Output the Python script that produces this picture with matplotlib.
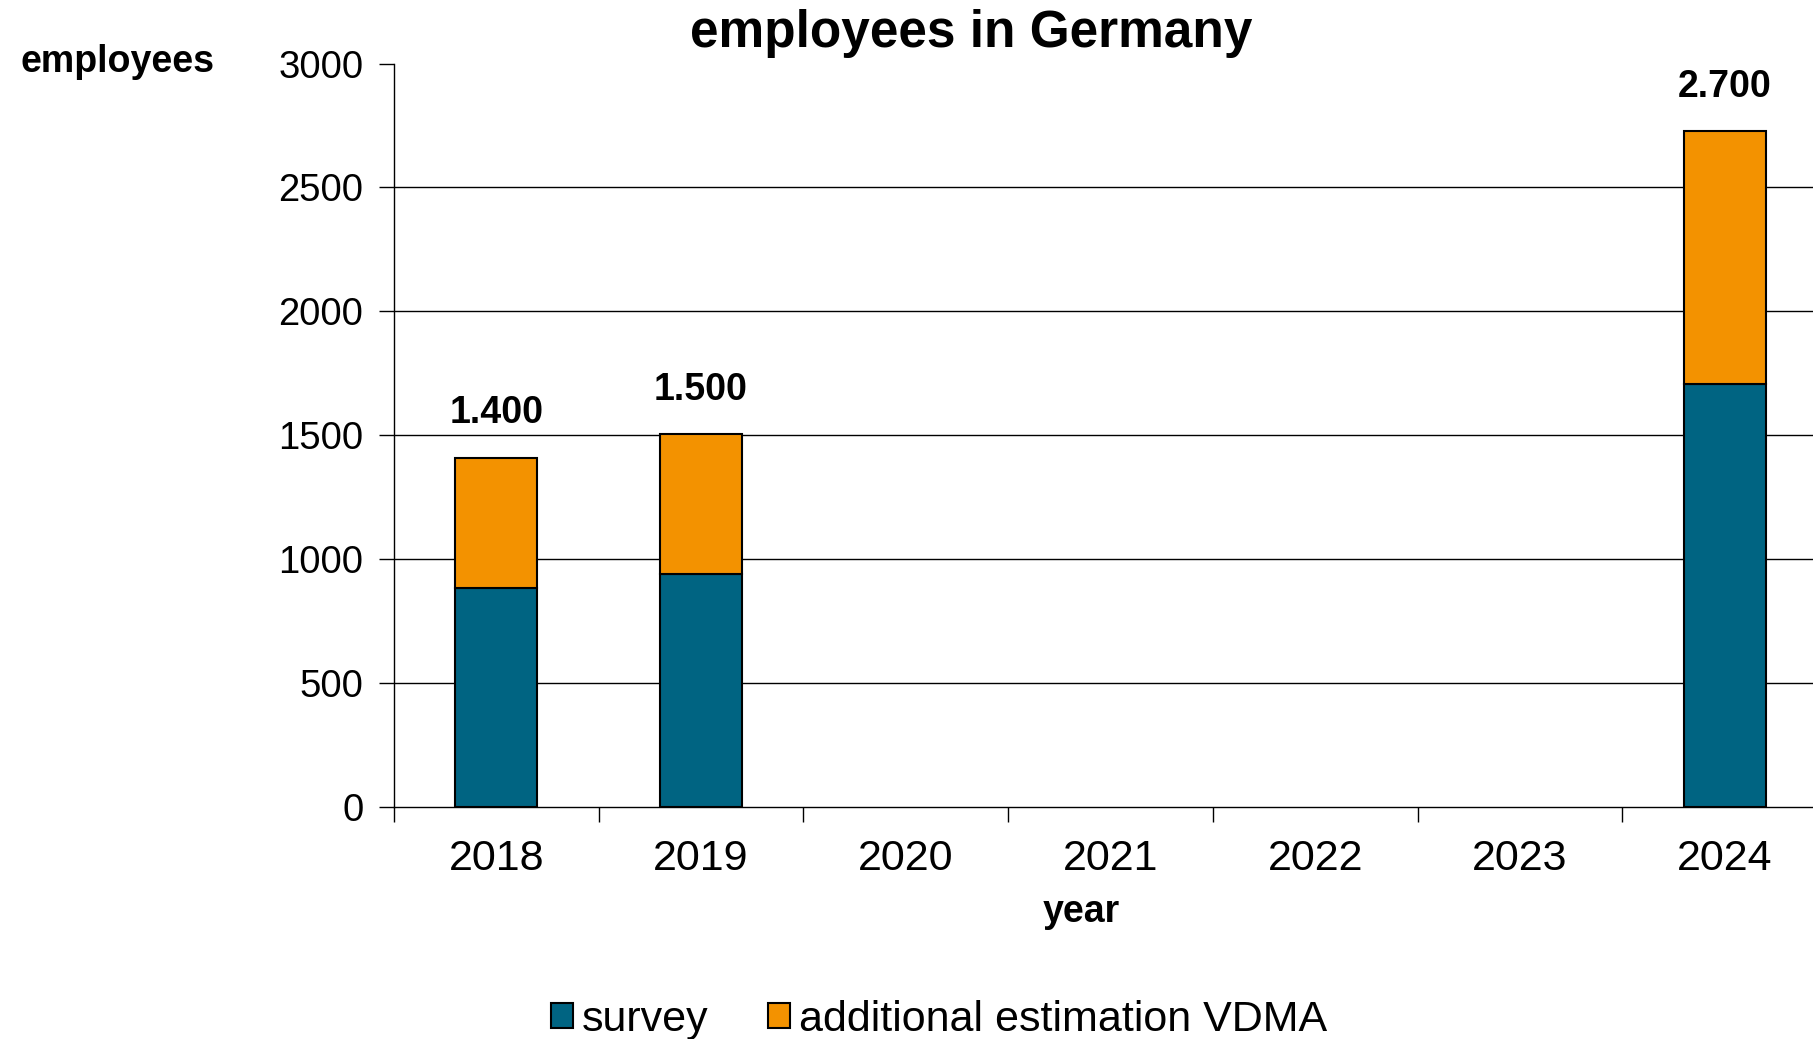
import matplotlib
matplotlib.use('Agg')
import matplotlib.pyplot as plt

plt.rcParams['font.family'] = ['Liberation Sans', 'DejaVu Sans']

years = ['2018', '2019', '2020', '2021', '2022', '2023', '2024']
survey = [882, 942, 0, 0, 0, 0, 1708]
estimation = [528, 562, 0, 0, 0, 0, 1019]
total_labels = ['1.400', '1.500', '', '', '', '', '2.700']

teal = '#006482'
orange = '#F39200'

fig = plt.figure(figsize=(18.13, 10.39), dpi=100)
ax = fig.add_axes([0.2173, 0.2233, 0.7904, 0.7155])

x = list(range(len(years)))
b1 = ax.bar(x, survey, width=0.4, color=teal, edgecolor='black', linewidth=1.5,
            label='survey', zorder=3)
b2 = ax.bar(x, estimation, width=0.4, bottom=survey, color=orange, edgecolor='black',
            linewidth=1.5, label='additional estimation VDMA', zorder=3)
# hide empty years
for i in range(len(years)):
    if survey[i] + estimation[i] == 0:
        b1[i].set_visible(False)
        b2[i].set_visible(False)

for i, lab in enumerate(total_labels):
    if lab:
        ax.annotate(lab, (x[i], survey[i] + estimation[i]), xytext=(0, 32),
                    textcoords='offset points', ha='center', va='center',
                    fontsize=27, fontweight='bold')

ax.set_xlim(-0.5, 6.5)
ax.set_ylim(0, 3000)
ax.set_yticks(range(0, 3001, 500))
for v in range(500, 3000, 500):
    ax.axhline(v, color='black', linewidth=1, zorder=1)

ax.set_xticks(x)
ax.set_xticklabels(years)
ax.set_xticks([i - 0.5 for i in range(len(years) + 1)], minor=True)
ax.tick_params(axis='x', which='major', length=0, labelsize=31, pad=23)
ax.tick_params(axis='x', which='minor', length=11, width=1, direction='out')
ax.tick_params(axis='y', labelsize=27.5, length=11, width=1, pad=11)

for s in ['top', 'right']:
    ax.spines[s].set_visible(False)
ax.spines['left'].set_linewidth(1)
ax.spines['bottom'].set_linewidth(1)

ax.set_xlabel('year', fontsize=27, fontweight='bold', va='center')
ax.xaxis.set_label_coords((1081 - 394) / (1827 - 394), -0.1412)

fig.text(20 / 1813, 1 - 62 / 1039, 'employees', fontsize=27, fontweight='bold',
         ha='left', va='center')
fig.text(971 / 1813, 1 - 34 / 1039, 'employees in Germany', fontsize=37,
         fontweight='bold', ha='center', va='center')

fig.legend(handles=[b1, b2], loc='center', bbox_to_anchor=(939 / 1813, 1 - 1020 / 1039),
           ncol=2, frameon=False, fontsize=31, handlelength=0.5, handleheight=0.5,
           handletextpad=0.2, columnspacing=1.4)

fig.savefig('out.png', dpi=100)
